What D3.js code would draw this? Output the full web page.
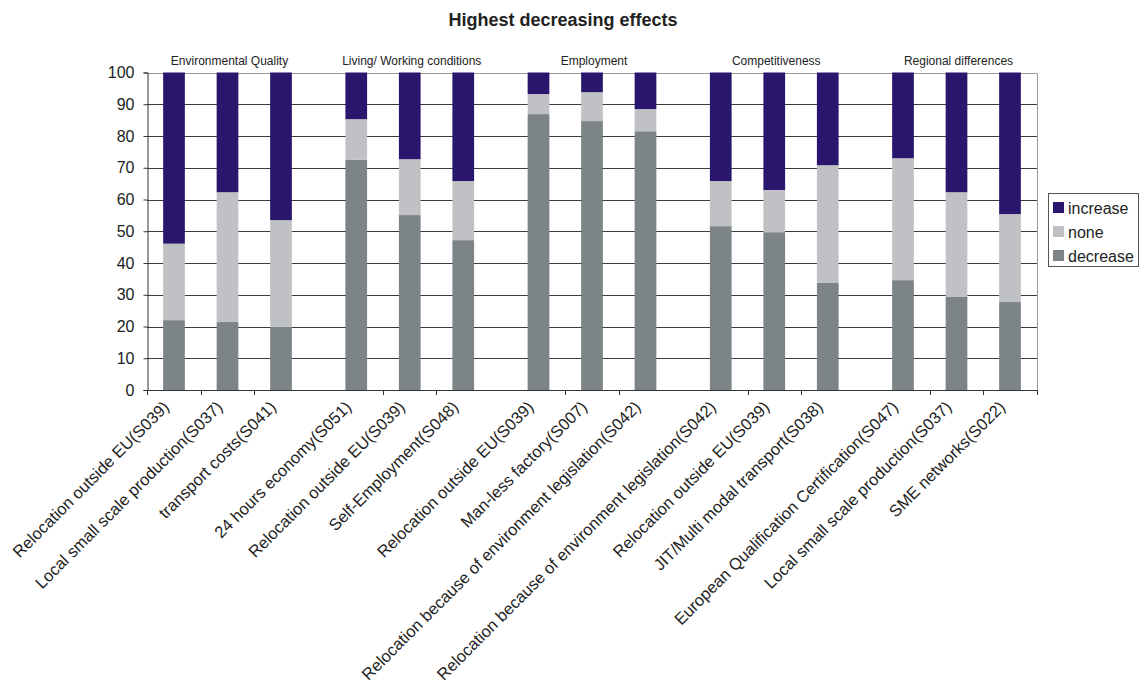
<!DOCTYPE html>
<html>
<head>
<meta charset="utf-8">
<script src="https://cdn.jsdelivr.net/npm/d3@7/dist/d3.min.js"></script>
<style>
  html, body { margin: 0; padding: 0; background: #fff; }
  svg { display: block; font-family: Arial, "Liberation Sans", sans-serif; }
</style>
</head>
<body>
<svg id="chart" width="1142" height="688"></svg>
<script>
// Survey themes, three developments per theme
const groups = ["Environmental Quality", "Living/ Working conditions", "Employment", "Competitiveness", "Regional differences"];
const categories = [
  "Relocation outside EU(S039)", "Local small scale production(S037)", "transport costs(S041)",
  "24 hours economy(S051)", "Relocation outside EU(S039)", "Self-Employment(S048)",
  "Relocation outside EU(S039)", "Man-less factory(S007)", "Relocation because of environment legislation(S042)",
  "Relocation because of environment legislation(S042)", "Relocation outside EU(S039)", "JIT/Multi modal transport(S038)",
  "European Qualification Certification(S047)", "Local small scale production(S037)", "SME networks(S022)"
];
const categoryGroup = [0, 0, 0, 1, 1, 1, 2, 2, 2, 3, 3, 3, 4, 4, 4];

// Share of answers (%)
const decrease = [22.0, 21.4, 19.9, 72.5, 55.1, 47.2, 86.9, 84.7, 81.5, 51.6, 49.7, 33.7, 34.6, 29.3, 27.7];
const none     = [24.1, 40.9, 33.6, 12.8, 17.6, 18.6,  6.3,  9.1,  7.0, 14.2, 13.3, 37.1, 38.4, 33.0, 27.7];
const increase = [53.9, 37.7, 46.5, 14.7, 27.3, 34.2,  6.8,  6.2, 11.5, 34.2, 37.0, 29.2, 27.0, 37.7, 44.6];

const seriesKeys = ["decrease", "none", "increase"];
const legendOrder = ["increase", "none", "decrease"];
const yTicks = [0, 10, 20, 30, 40, 50, 60, 70, 80, 90, 100];
const title = "Highest decreasing effects";

const colors = { increase: "#2a176d", none: "#c0c1c5", decrease: "#7d8487" };

const svg = d3.select("#chart");
const plot = { left: 147, right: 1037, top: 72.5, bottom: 390 };

const rows = categories.map((c, i) => ({
  idx: i, label: c, group: groups[categoryGroup[i]],
  slot: i % 3,
  decrease: decrease[i], none: none[i], increase: increase[i]
}));

// Scales: theme position, then slot within the theme
const xGroup = d3.scalePoint().domain(groups).range([plot.left, plot.right]).padding(0.4417);
const slotStep = 53.5;
const xSlot = d3.scaleBand().domain([0, 1, 2])
  .range([-1.5 * slotStep, 1.5 * slotStep]).paddingInner(0.594).paddingOuter(0.297);
const barX = d => xGroup(d.group) + xSlot(d.slot);
const barCenter = d => barX(d) + xSlot.bandwidth() / 2;

const y = d3.scaleLinear().domain([0, 100]).range([plot.bottom, plot.top]);

// Gridlines
svg.append("g").selectAll("line").data(yTicks.filter(t => t > 0 && t < 100)).join("line")
  .attr("x1", plot.left).attr("x2", plot.right)
  .attr("y1", d => Math.round(y(d)) + 0.5).attr("y2", d => Math.round(y(d)) + 0.5)
  .attr("stroke", "#3c3c3c").attr("stroke-width", 1);

// Plot frame (top and right)
svg.append("path")
  .attr("d", `M${plot.left},${Math.round(plot.top) + 0.5}H${plot.right + 0.5}V${plot.bottom}`)
  .attr("fill", "none").attr("stroke", "#9a9a9a").attr("stroke-width", 1);

// Stacked bars
const stacked = d3.stack().keys(seriesKeys)(rows);
svg.append("g").selectAll("g").data(stacked).join("g")
  .attr("fill", s => colors[s.key])
  .selectAll("rect").data(s => s).join("rect")
  .attr("x", d => barX(d.data))
  .attr("width", xSlot.bandwidth())
  .attr("y", d => y(d[1]))
  .attr("height", d => y(d[0]) - y(d[1]));

// Y axis
const yAxis = d3.axisLeft(y).tickValues(yTicks).tickSize(4).tickPadding(9).tickFormat(d3.format("d"));
const gy = svg.append("g").attr("transform", `translate(${plot.left + 0.5},0)`).call(yAxis);
gy.select(".domain").attr("stroke", "#333");
gy.selectAll(".tick line").attr("stroke", "#333");
gy.selectAll(".tick text").attr("font-size", 16).attr("fill", "#222")
  .attr("font-family", "Arial, 'Liberation Sans', sans-serif");

// X axis line and tick marks between neighbouring bars of a theme
svg.append("line")
  .attr("x1", plot.left).attr("x2", plot.right + 0.5)
  .attr("y1", plot.bottom + 0.5).attr("y2", plot.bottom + 0.5)
  .attr("stroke", "#333");
const tickXs = [plot.left + 0.5];
rows.forEach((d, i) => {
  if (i > 0 && categoryGroup[i] === categoryGroup[i - 1]) {
    tickXs.push(Math.round((barCenter(d) + barCenter(rows[i - 1])) / 2) + 0.5);
  }
});
tickXs.push(plot.right + 0.5);
svg.append("g").selectAll("line").data(tickXs).join("line")
  .attr("x1", d => d).attr("x2", d => d)
  .attr("y1", plot.bottom).attr("y2", plot.bottom + 5)
  .attr("stroke", "#333");

// Category labels, rotated
svg.append("g").selectAll("text").data(rows).join("text")
  .attr("transform", d => `translate(${barCenter(d) - 8},404) rotate(-45)`)
  .attr("text-anchor", "end")
  .attr("dy", "0.35em")
  .attr("font-size", 16.5).attr("fill", "#222")
  .text(d => d.label);

// Theme headings above the plot
svg.append("g").selectAll("text").data(groups).join("text")
  .attr("x", d => xGroup(d) + 2).attr("y", 65)
  .attr("text-anchor", "middle")
  .attr("font-size", 12).attr("fill", "#222")
  .text(d => d);

// Title
svg.append("text")
  .attr("x", 563).attr("y", 26)
  .attr("text-anchor", "middle")
  .attr("font-size", 18).attr("font-weight", "bold").attr("fill", "#222")
  .text(title);

// Legend
const legend = svg.append("g").attr("transform", "translate(1048,193)");
legend.append("rect").attr("x", 0.5).attr("y", 0.5).attr("width", 90).attr("height", 73)
  .attr("fill", "#fff").attr("stroke", "#555");
const items = legend.selectAll("g.item").data(legendOrder).join("g")
  .attr("class", "item")
  .attr("transform", (d, i) => `translate(5,${15 + i * 24})`);
items.append("rect").attr("x", 0).attr("y", -6).attr("width", 11).attr("height", 11)
  .attr("fill", d => colors[d]);
items.append("text").attr("x", 15).attr("y", 0).attr("dy", "0.35em")
  .attr("font-size", 16).attr("fill", "#222")
  .text(d => d);
</script>
</body>
</html>
